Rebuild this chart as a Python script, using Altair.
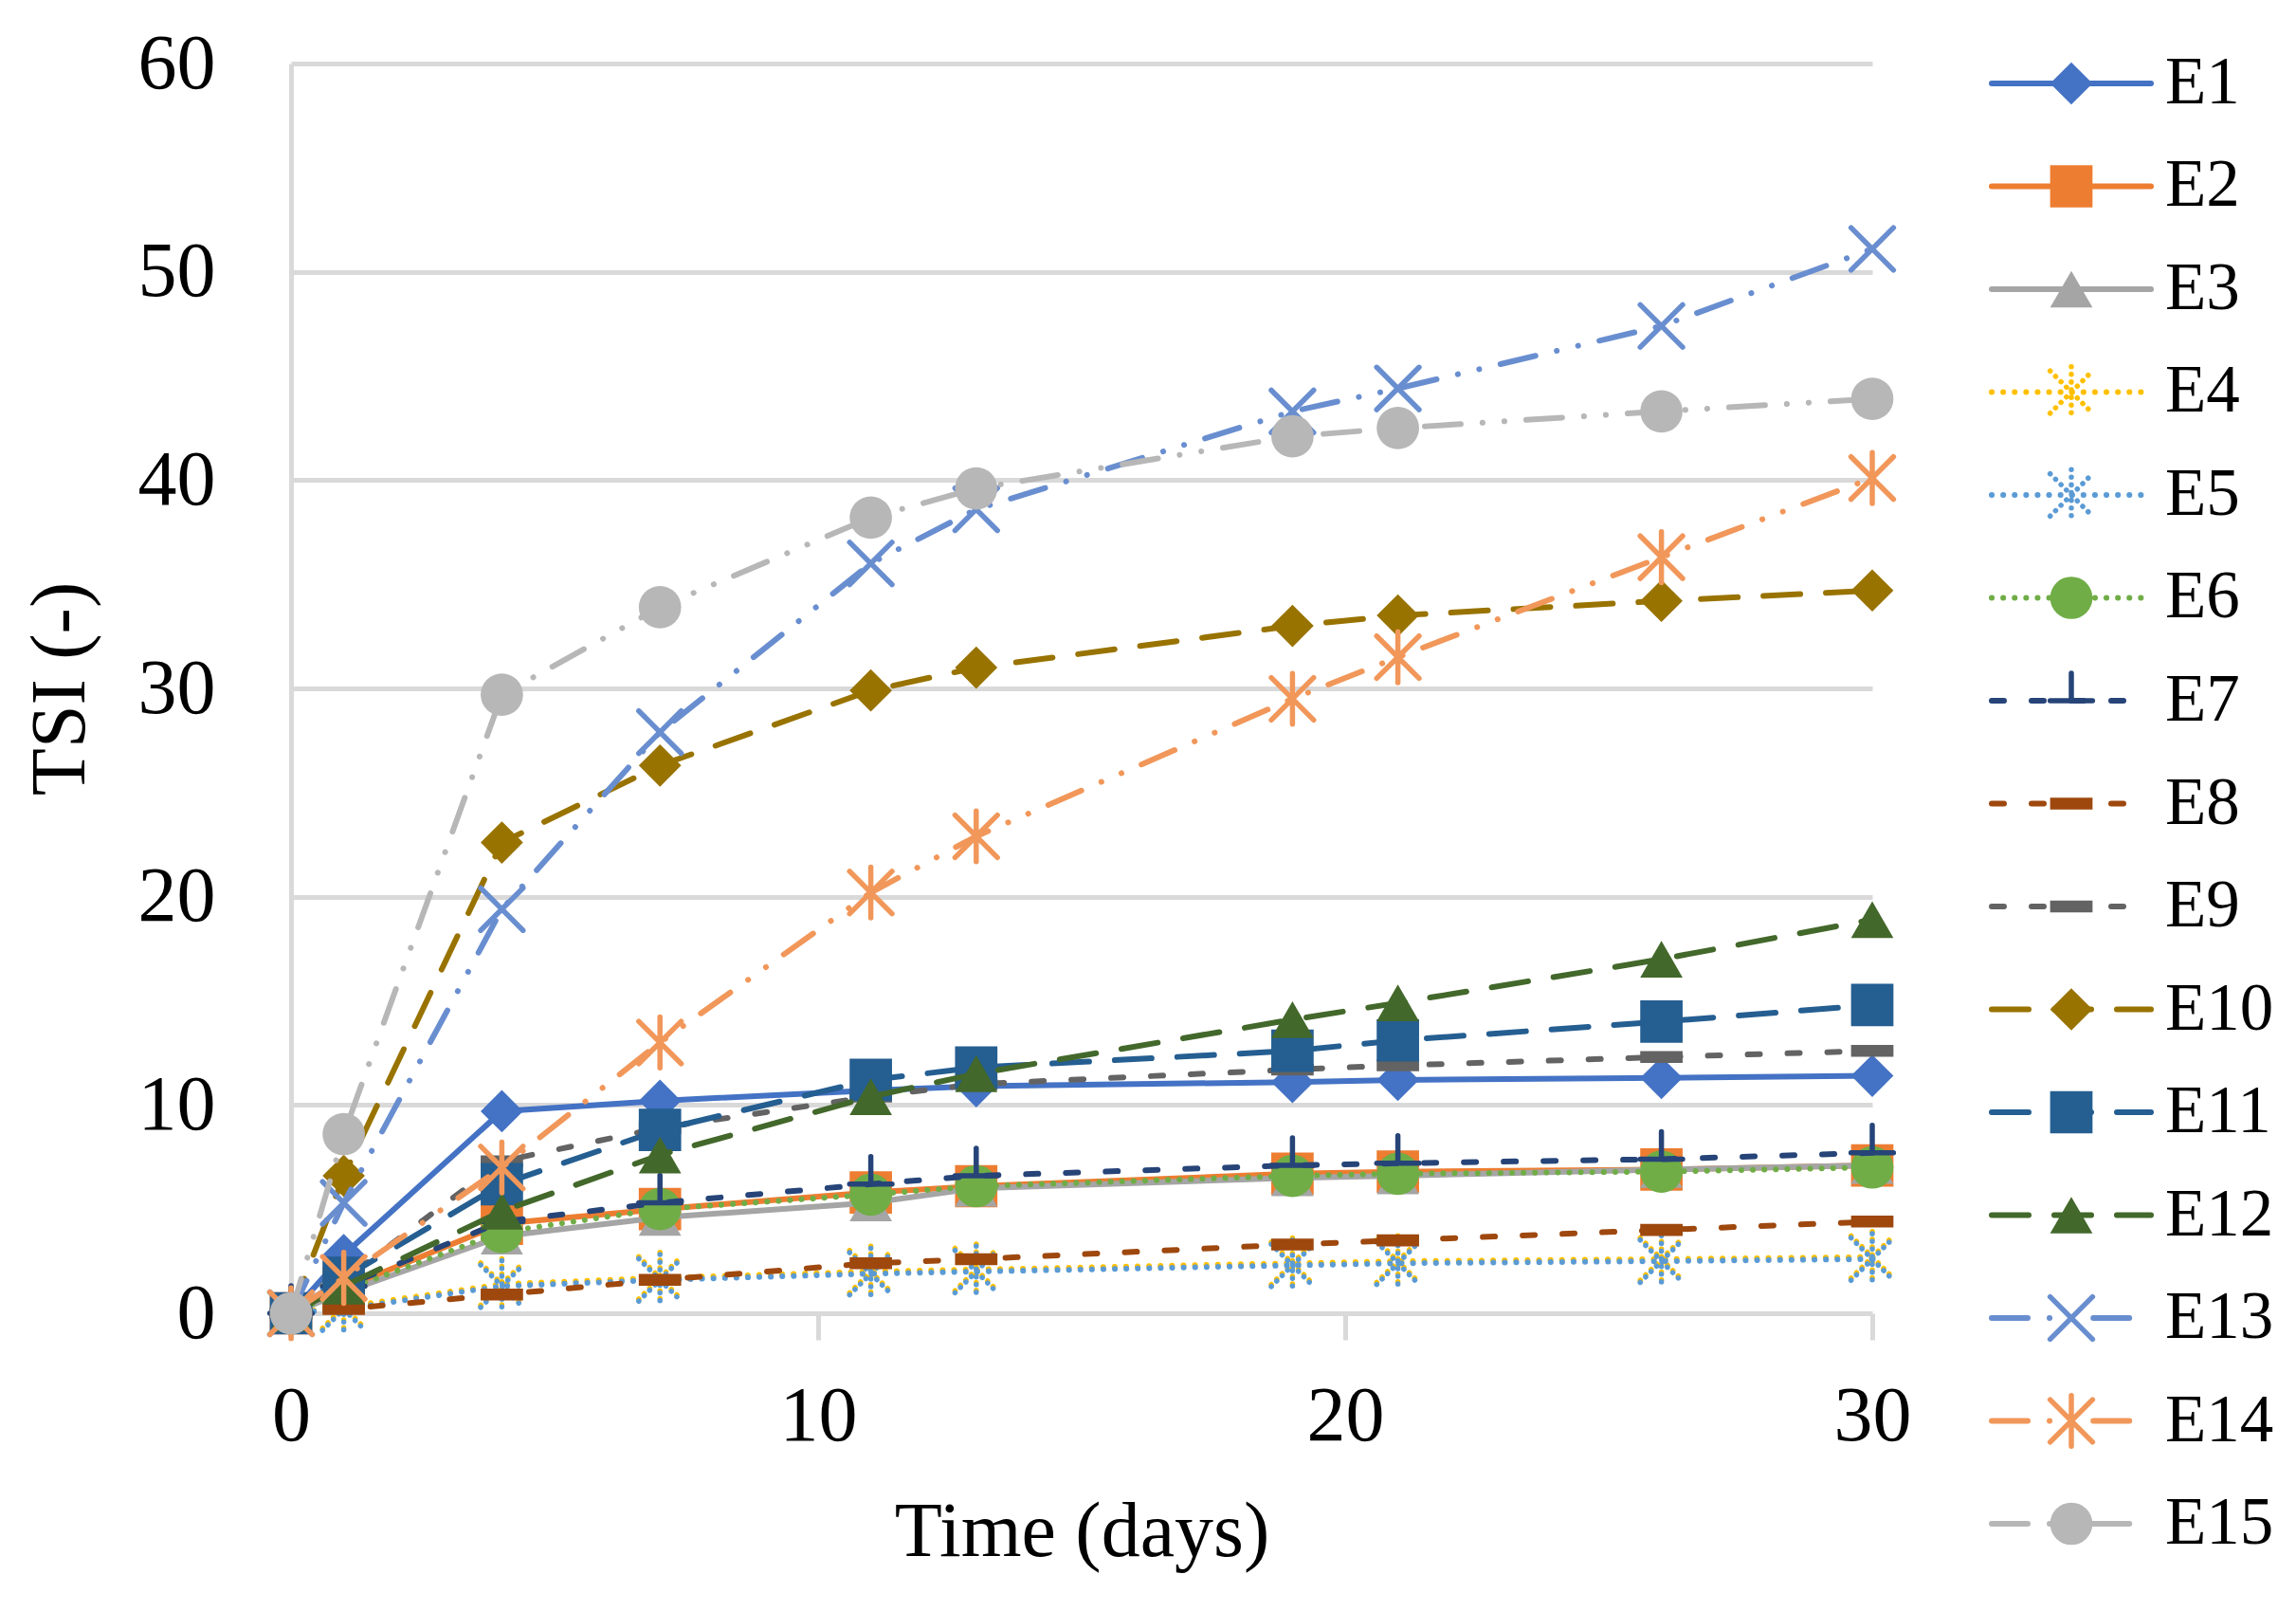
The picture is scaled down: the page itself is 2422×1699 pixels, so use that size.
import altair as alt
import pandas as pd

# sampling days
days = [0, 1, 4, 7, 11, 13, 19, 21, 26, 30]

# TSI per experiment
E1 = [0, 2.8, 9.7, 10.2, 10.7, 10.9, 11.1, 11.2, 11.3, 11.4]
E2 = [0, 1.2, 4.3, 5.0, 5.8, 6.1, 6.7, 6.8, 6.9, 7.1]
E3 = [0, 1.0, 3.7, 4.6, 5.3, 6.0, 6.5, 6.6, 6.9, 7.1]
E4 = [0, 0.3, 1.4, 1.7, 2.0, 2.1, 2.4, 2.5, 2.6, 2.7]
E5 = [0, 0.2, 1.3, 1.6, 1.9, 2.0, 2.3, 2.4, 2.5, 2.6]
E6 = [0, 1.1, 3.9, 5.0, 5.7, 6.1, 6.6, 6.7, 6.8, 7.0]
E7 = [0, 1.3, 4.4, 5.3, 6.2, 6.6, 7.1, 7.2, 7.4, 7.7]
E8 = [0, 0.2, 0.9, 1.6, 2.4, 2.6, 3.3, 3.5, 4.0, 4.4]
E9 = [0, 1.6, 7.3, 8.9, 10.4, 11.0, 11.7, 11.9, 12.3, 12.6]
E10 = [0, 6.6, 22.6, 26.3, 29.9, 31.0, 33.0, 33.5, 34.2, 34.7]
E11 = [0, 1.7, 6.2, 8.8, 11.2, 11.8, 12.6, 13.1, 14.0, 14.8]
E12 = [0, 1.3, 4.9, 7.6, 10.4, 11.5, 14.1, 14.9, 17.0, 18.9]
E13 = [0, 5.3, 19.4, 27.9, 36.0, 38.6, 43.3, 44.4, 47.4, 51.1]
E14 = [0, 1.7, 7.0, 13.0, 20.2, 22.9, 29.5, 31.5, 36.3, 40.1]
E15 = [0, 8.6, 29.7, 33.9, 38.2, 39.6, 42.1, 42.5, 43.3, 43.9]

SERIES = {
    "E1": E1, "E2": E2, "E3": E3, "E4": E4, "E5": E5,
    "E6": E6, "E7": E7, "E8": E8, "E9": E9, "E10": E10,
    "E11": E11, "E12": E12, "E13": E13, "E14": E14, "E15": E15,
}
names = list(SERIES.keys())

FONT = "Liberation Serif"
GRID = "#D9D9D9"
LW = 6
MSIZE = 2000

DOT = [0.1, 12]
SHORT = [13, 29]
LONG = [39, 27]
LDD = [38, 23, 0.1, 23, 0.1, 23]

X_PATH = "M-1,-1L1,1M-1,1L1,-1"
STAR_PATH = "M-1,-1L1,1M-1,1L1,-1M0,-1.2L0,1.2"
TEE_PATH = "M-1,0L1,0M0,0L0,-1.3"
BAR_PATH = "M-1,-0.28L1,-0.28L1,0.28L-1,0.28Z"

STYLE = {
    "E1": dict(color="#4472C4", dash=None, shape="diamond", filled=True),
    "E2": dict(color="#ED7D31", dash=None, shape="square", filled=True),
    "E3": dict(color="#A5A5A5", dash=None, shape="triangle-up", filled=True),
    "E4": dict(color="#FFC000", dash=DOT, shape=STAR_PATH, filled=False, mdash=[0.1, 8]),
    "E5": dict(color="#5B9BD5", dash=DOT, shape=STAR_PATH, filled=False, mdash=[0.1, 8]),
    "E6": dict(color="#70AD47", dash=DOT, shape="circle", filled=True),
    "E7": dict(color="#264478", dash=SHORT, shape=TEE_PATH, filled=False),
    "E8": dict(color="#9E480E", dash=SHORT, shape=BAR_PATH, filled=True),
    "E9": dict(color="#636363", dash=SHORT, shape=BAR_PATH, filled=True),
    "E10": dict(color="#997300", dash=LONG, shape="diamond", filled=True),
    "E11": dict(color="#255E91", dash=LONG, shape="square", filled=True),
    "E12": dict(color="#43682B", dash=LONG, shape="triangle-up", filled=True),
    "E13": dict(color="#698ED0", dash=LDD, shape=X_PATH, filled=False),
    "E14": dict(color="#F1975A", dash=LDD, shape=STAR_PATH, filled=False),
    "E15": dict(color="#B7B7B7", dash=LDD, shape="circle", filled=True),
}

rows = []
for name, vals in SERIES.items():
    for d, v in zip(days, vals):
        rows.append({"series": name, "day": d, "tsi": v})
df = pd.DataFrame(rows)


def line_kw(st):
    kw = dict(color=st["color"], strokeWidth=LW, strokeCap="round")
    if st["dash"]:
        kw["strokeDash"] = st["dash"]
    return kw


def point_kw(st):
    kw = dict(shape=st["shape"], size=MSIZE, filled=st["filled"], color=st["color"], opacity=1)
    if not st["filled"]:
        kw["strokeWidth"] = 5.5
        kw["strokeCap"] = "round"
    if "mdash" in st:
        kw["strokeDash"] = st["mdash"]
    return kw


x_enc = alt.X(
    "day:Q",
    scale=alt.Scale(domain=[0, 30], nice=False, zero=False),
    axis=alt.Axis(
        values=[0, 10, 20, 30], title="Time (days)", grid=False, domain=False,
        ticks=True, tickColor=GRID, tickWidth=5, tickSize=28, labelFlush=False,
        labelFont=FONT, labelFontSize=82, labelColor="black", labelPadding=40,
        titleFont=FONT, titleFontSize=82, titleFontWeight="normal", titleColor="black",
        titlePadding=41,
    ),
)
y_enc = alt.Y(
    "tsi:Q",
    scale=alt.Scale(domain=[0, 60], nice=False),
    axis=alt.Axis(
        values=[0, 10, 20, 30, 40, 50, 60], title="TSI  (-)", grid=True,
        gridColor=GRID, gridWidth=5, domain=True, domainColor=GRID, domainWidth=5,
        ticks=False, labelFont=FONT, labelFontSize=82, labelColor="black",
        labelPadding=80, titleFont=FONT, titleFontSize=82, titleFontWeight="normal",
        titleColor="black", titlePadding=40,
    ),
)

base = alt.Chart(df)
layers = []
for name in names:
    st = STYLE[name]
    sub = base.transform_filter(alt.datum.series == name)
    layers.append(sub.mark_line(**line_kw(st)).encode(x=x_enc, y=y_enc))
    layers.append(sub.mark_point(**point_kw(st)).encode(x=x_enc, y=y_enc))

main = alt.layer(*layers).properties(width=1668, height=1318)

# legend panel
leg_df = pd.DataFrame({"series": names})
leg_base = alt.Chart(leg_df)
leg_y = alt.Y("series:N", sort=names, scale=alt.Scale(type="point", padding=0.1935), axis=None)
leg_layers = []
for name in names:
    st = STYLE[name]
    sub = leg_base.transform_filter(alt.datum.series == name)
    leg_layers.append(sub.mark_rule(**line_kw(st)).encode(x=alt.value(0), x2=alt.value(168), y=leg_y))
    leg_layers.append(sub.mark_point(**point_kw(st)).encode(x=alt.value(84), y=leg_y))
leg_layers.append(
    leg_base.mark_text(align="left", baseline="middle", font=FONT, fontSize=71, color="black").encode(
        x=alt.value(183), y=leg_y, text="series:N"
    )
)
legend = alt.layer(*leg_layers).properties(width=120, height=1561)

chart = alt.hconcat(main, legend, spacing=126, bounds="flush").properties(
    padding={"left": 14, "top": 18, "right": 0, "bottom": 20}
).configure_view(stroke=None)

chart.save("out.html", embed_options={"renderer": "svg", "actions": False})
